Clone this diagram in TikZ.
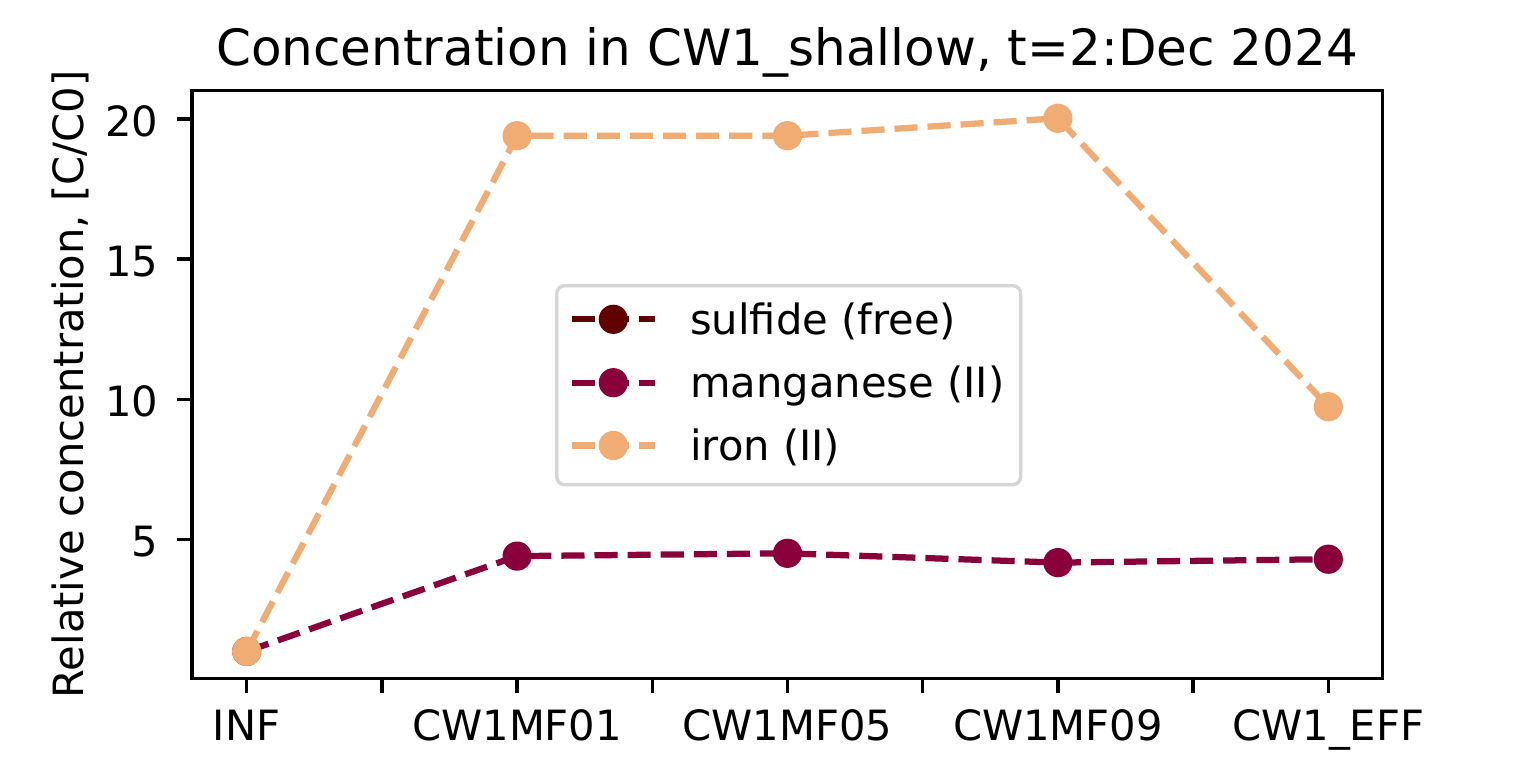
\documentclass[tikz,border=0pt]{standalone}
\usepackage{fontspec}
\setmainfont{DejaVu Sans}
\definecolor{sulfc}{HTML}{600000}
\definecolor{mangc}{HTML}{8A003A}
\definecolor{ironc}{HTML}{F0AC72}
\definecolor{legedge}{HTML}{D6D6D6}
\begin{document}
\begin{tikzpicture}[x=1pt,y=-1pt,
  txt/.style={inner sep=0pt,font=\fontsize{41.67}{50}\selectfont},
  ttl/.style={inner sep=0pt,font=\fontsize{50}{60}\selectfont},
  axisline/.style={line width=3.33pt,black},
  tickmark/.style={line width=3.33pt,black},
  series/.style={line width=6.25pt,dash pattern=on 23.1pt off 10pt,line cap=butt},
  marker/.style={circle,inner sep=0pt,minimum size=29.2pt,fill=#1,draw=none}]
\useasboundingbox (0,0) rectangle (1536,762);
\fill[white] (0,0) rectangle (1536,762);

% axes frame
\draw[axisline] (192,90.7) rectangle (1382.3,678.3);

% x ticks
\foreach \xx in {246.7,381.9,517.1,652.3,787.5,922.7,1057.9,1193.1,1328.3}
  \draw[tickmark] (\xx,678.3) -- (\xx,692.9);
% y ticks
\foreach \yy in {118.9,259.0,399.3,539.3}
  \draw[tickmark] (192,\yy) -- (177.4,\yy);

% x tick labels
\node[txt,anchor=base] (xl1) at (246.7,740) {INF};
\node[txt,anchor=base] (xl2) at (517.1,740) {CW1MF01};
\node[txt,anchor=base] (xl3) at (787.5,740) {CW1MF05};
\node[txt,anchor=base] (xl4) at (1057.9,740) {CW1MF09};
\node[txt,anchor=base] (xl5) at (1328.3,740) {CW1\_EFF};

% y tick labels
\node[txt,anchor=base east] (yl20) at (158.5,136.5) {20};
\node[txt,anchor=base east] (yl15) at (158.5,276.7) {15};
\node[txt,anchor=base east] (yl10) at (158.5,416.9) {10};
\node[txt,anchor=base east] (yl5) at (158.5,556.9) {5};

% axis label and title
\node[txt,anchor=base,rotate=90] (ylab) at (83,384.5) {Relative concentration, [C/C0]};
\node[ttl,anchor=base] (title) at (787,66) {Concentration in CW1\_shallow, t=2:Dec 2024};

% data points
\coordinate (m1) at (246.7,651.4);
\coordinate (m2) at (517.1,556.1);
\coordinate (m3) at (787.5,553.3);
\coordinate (m4) at (1057.9,562.6);
\coordinate (m5) at (1328.3,559.2);
\coordinate (f1) at (246.7,651.4);
\coordinate (f2) at (517.1,135.7);
\coordinate (f3) at (787.5,135.7);
\coordinate (f4) at (1057.9,118.3);
\coordinate (f5) at (1328.3,406.7);

% manganese
\draw[series,mangc] (m1) -- (m2) -- (m3) -- (m4) -- (m5);
\foreach \p in {m1,m2,m3,m4,m5}
  \node[marker=mangc] (mk\p) at (\p) {};
% iron
\draw[series,ironc] (f1) -- (f2) -- (f3) -- (f4) -- (f5);
\foreach \p in {f1,f2,f3,f4,f5}
  \node[marker=ironc] (mk\p) at (\p) {};

% legend
\node[draw=legedge,line width=3.4pt,fill=white,rounded corners=8pt,inner sep=0pt,
      minimum width=464pt,minimum height=199pt,anchor=north west] (legend) at (555,284) {};
\coordinate (la1) at (572.3,319.3); \coordinate (lb1) at (655,319.3);
\coordinate (la2) at (572.3,382.7); \coordinate (lb2) at (655,382.7);
\coordinate (la3) at (572.3,445.5); \coordinate (lb3) at (655,445.5);
\draw[series,sulfc] (la1) -- (lb1);
\node[marker=sulfc] (lm1) at (613.3,319.3) {};
\draw[series,mangc] (la2) -- (lb2);
\node[marker=mangc] (lm2) at (613.3,382.7) {};
\draw[series,ironc] (la3) -- (lb3);
\node[marker=ironc] (lm3) at (613.3,445.5) {};
\node[txt,anchor=base west] (lt1) at (690,334) {sulfide (free)};
\node[txt,anchor=base west] (lt2) at (690,397) {manganese (II)};
\node[txt,anchor=base west] (lt3) at (690,460) {iron (II)};
\end{tikzpicture}
\end{document}
